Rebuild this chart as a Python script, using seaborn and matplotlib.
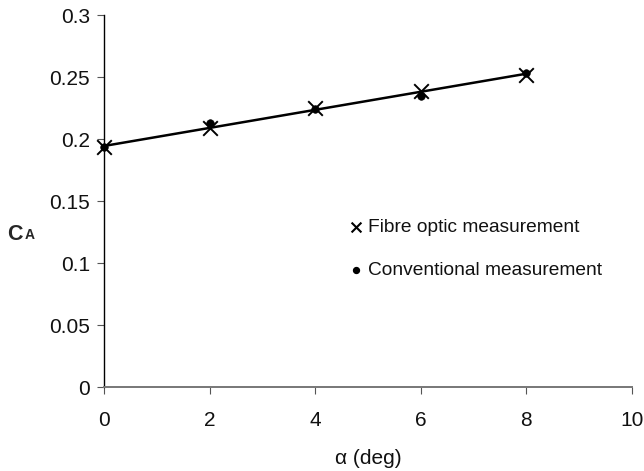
import numpy as np
import pandas as pd
import matplotlib
matplotlib.use("Agg")
import matplotlib.pyplot as plt
import seaborn as sns

# Data
alpha = [0, 2, 4, 6, 8]
ca_fibre = [0.194, 0.2086, 0.2247, 0.239, 0.2516]
ca_conv = [0.1935, 0.2126, 0.224, 0.2347, 0.253]

x_ticks = [0, 2, 4, 6, 8, 10]
y_ticks = [0, 0.05, 0.1, 0.15, 0.2, 0.25, 0.3]
y_ticklabels = ["0", "0.05", "0.1", "0.15", "0.2", "0.25", "0.3"]

df_fibre = pd.DataFrame({"alpha": alpha, "ca": ca_fibre})
df_conv = pd.DataFrame({"alpha": alpha, "ca": ca_conv})

sns.set_style("white")
plt.rcParams["font.family"] = ["Liberation Sans", "DejaVu Sans"]

fig = plt.figure(figsize=(6.44, 4.71), dpi=100)
ax = fig.add_axes([0.1615, 0.178, 0.8195, 0.79])

# linear trendline through the fibre optic points
sns.regplot(data=df_fibre, x="alpha", y="ca", scatter=False, ci=None,
            truncate=True, color="black", line_kws={"linewidth": 1.8}, ax=ax)

sns.scatterplot(data=df_conv, x="alpha", y="ca", marker="o", s=30,
                color="black", edgecolor="black", ax=ax, zorder=3)
sns.scatterplot(data=df_fibre, x="alpha", y="ca", marker="x", s=110,
                color="black", linewidth=1.4, ax=ax, zorder=4)
for coll in ax.collections:
    coll.set_clip_on(False)

ax.set_xlim(0, 10)
ax.set_ylim(0, 0.3)
ax.set_xticks(x_ticks)
ax.set_yticks(y_ticks)
ax.set_yticklabels(y_ticklabels)
ax.tick_params(axis="both", labelsize=15, length=5, width=0.8,
               color="#555555", direction="out", bottom=True, left=True,
               labelcolor="#111111")
ax.tick_params(axis="y", pad=5)
ax.tick_params(axis="x", pad=12)

for side in ["top", "right"]:
    ax.spines[side].set_visible(False)
ax.spines["left"].set_color("black")
ax.spines["left"].set_linewidth(1.0)
ax.spines["bottom"].set_color("#777777")
ax.spines["bottom"].set_linewidth(1.4)

ax.set_xlabel("\u03b1 (deg)", fontsize=15, labelpad=14, color="#111111")
ax.set_ylabel("")

# y label "CA" with small A
fig.text(7 / 644, 1 - 240 / 471, "C", fontsize=15.5, fontweight="bold",
         ha="left", va="baseline")
fig.text(24.5 / 644, 1 - 239 / 471, "A", fontsize=10, fontweight="bold",
         ha="left", va="baseline")

# legend
ax.scatter([], [], marker="x", s=50, color="black", linewidth=1.5,
           label="Fibre optic measurement")
ax.scatter([], [], marker="o", s=18, color="black",
           label="Conventional measurement")
handles, labels = ax.get_legend_handles_labels()
ax.legend(handles[-2:], labels[-2:], loc="center left",
          bbox_to_anchor=(0.459, 0.372), frameon=False, fontsize=13.8,
          handletextpad=0.15, handlelength=1.0, labelspacing=1.35,
          borderaxespad=0, borderpad=0, labelcolor="#111111")

fig.savefig("out.png", dpi=100)
